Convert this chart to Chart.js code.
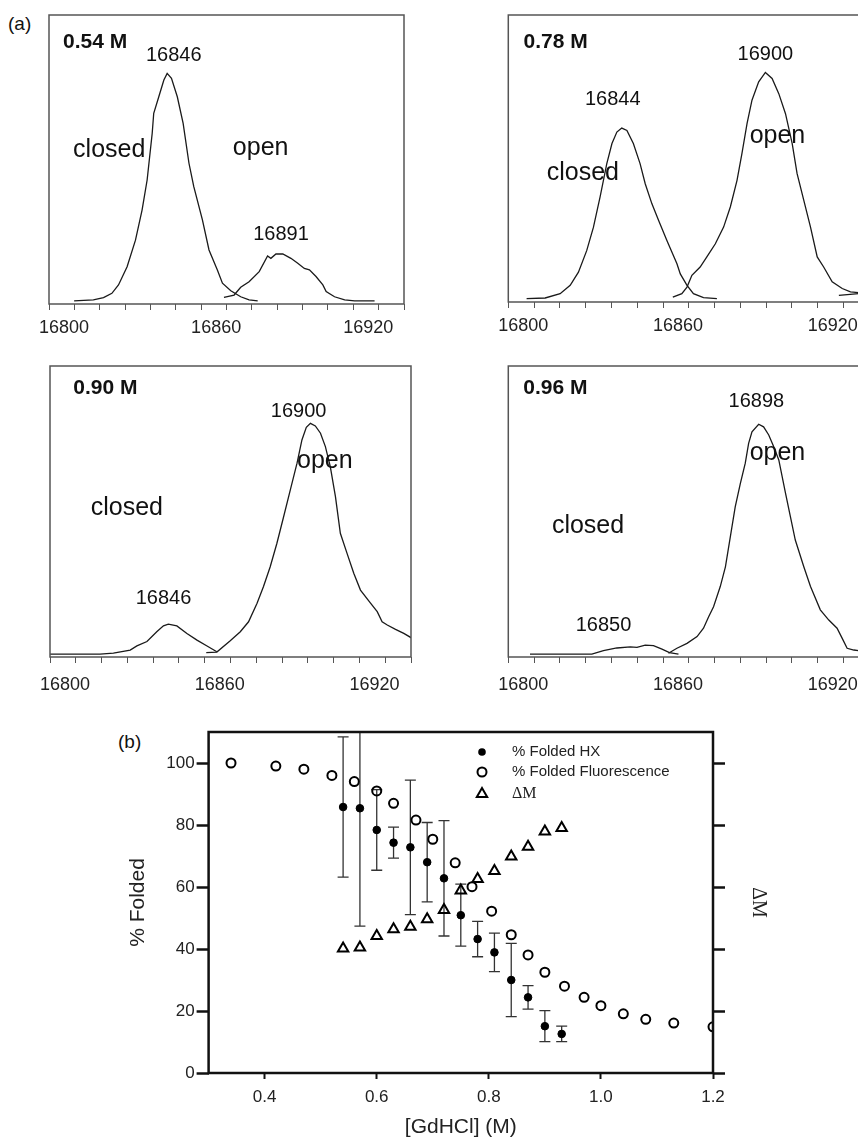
<!DOCTYPE html>
<html>
<head>
<meta charset="utf-8">
<script src="https://cdn.jsdelivr.net/npm/chart.js@4.4.1/dist/chart.umd.min.js"></script>
<style>
  html, body { margin: 0; padding: 0; background: #fff; }
  body { width: 858px; height: 1140px; position: relative; overflow: hidden; font-family: 'Liberation Sans', Arial, sans-serif; }
  canvas { position: absolute; }
  .tag { position: absolute; font-size: 19px; color: #111; line-height: 22px; }
</style>
</head>
<body>
<div class="tag" style="left:8px;top:13px">(a)</div>
<div class="tag" style="left:118px;top:731px">(b)</div>
<canvas id="p1" width="429" height="340" style="left:0;top:0"></canvas>
<canvas id="p2" width="460" height="340" style="left:430px;top:0"></canvas>
<canvas id="p3" width="429" height="350" style="left:0;top:340px"></canvas>
<canvas id="p4" width="460" height="350" style="left:430px;top:340px"></canvas>
<canvas id="pb" width="758" height="440" style="left:100px;top:700px"></canvas>
<script>
const FONT = "'Liberation Sans', Arial, sans-serif";

// ---- (a) deconvoluted mass spectra ----
const massTicks = [16800, 16860, 16920];

// 0.54 M
const massP1Closed = [16809.9, 16817.5, 16821.5, 16824.8, 16827.4, 16830.8, 16834.1, 16836.7, 16838.7, 16840.7, 16841.3, 16843.3, 16845.3, 16846.6, 16848.3, 16850.6, 16852.9, 16855.2, 16857.1, 16860.5, 16863.1, 16866.4, 16868.4, 16871.7, 16875.6, 16878.9, 16882.3];
const intP1Closed = [1.1, 1.4, 2.2, 3.7, 6.6, 12.9, 22.1, 32.5, 42.9, 59.1, 66, 71.7, 77.5, 79.8, 78.1, 71.7, 62.5, 48.7, 40.6, 29.1, 18.7, 11.8, 7.2, 4.6, 2.5, 1.4, 1.1];
const massP1Open = [16869.0, 16873.0, 16875.6, 16878.9, 16882.9, 16886.2, 16887.5, 16889.5, 16892.2, 16895.4, 16898.1, 16900.7, 16902.7, 16905.3, 16908.0, 16909.3, 16912.6, 16916.6, 16920.5, 16928.4];
const intP1Open = [2.3, 3.1, 5.8, 7.7, 11.2, 16.6, 15.8, 17.3, 17.3, 15.8, 14.1, 12.3, 11.8, 9.5, 6.6, 4.3, 2.5, 1.4, 1.1, 1.1];
const notesP1 = ['0.54 M', '16846', 'closed', 'open', '16891'];
const notesP1Mass = [16805.5, 16849.2, 16809.5, 16872.5, 16891.5];
const notesP1Int = [88.6, 84.1, 50.9, 51.6, 22.1];

// 0.78 M
const massP2Closed = [16807.1, 16814.3, 16820.1, 16824.0, 16827.2, 16830.4, 16833.0, 16835.6, 16838.2, 16840.2, 16842.1, 16844.0, 16846.0, 16848.5, 16851.1, 16853.1, 16855.7, 16858.3, 16861.5, 16865.4, 16866.7, 16869.3, 16871.8, 16875.7, 16880.9];
const intP2Closed = [1.2, 1.4, 2.9, 5.8, 10.4, 17.9, 26, 36.6, 48.2, 55.2, 59.2, 60.6, 59.8, 55.2, 48.2, 41.2, 34.2, 28.4, 21.4, 13.3, 9.8, 5.8, 2.9, 1.5, 1.2];
const massP2Open = [16863.8, 16867.3, 16869.3, 16871.2, 16874.4, 16877.0, 16880.3, 16883.5, 16886.1, 16888.7, 16890.6, 16892.6, 16894.5, 16897.1, 16899.7, 16902.3, 16904.9, 16907.5, 16910.1, 16912.0, 16914.6, 16917.2, 16919.8, 16922.3, 16925.6, 16929.5, 16932.7, 16935.8];
const intP2Open = [1.7, 2.9, 5.2, 9.3, 12.2, 15.7, 20.3, 26.1, 33.1, 42.4, 51.7, 62.2, 70.3, 76.7, 80, 77.9, 72.6, 65.6, 55.2, 44.7, 35.4, 26.1, 15.7, 12.2, 7, 4.7, 3.5, 3.3];
const massP2Tail = [16928.2, 16935.8];
const intP2Tail = [2.3, 2.9];
const notesP2 = ['0.78 M', '16844', '16900', 'closed', 'open'];
const notesP2Mass = [16805.9, 16840.5, 16899.7, 16814.9, 16893.6];
const notesP2Int = [88.4, 68.5, 84.2, 42.4, 55.4];

// 0.90 M
const massP3Closed = [16800.0, 16819.4, 16824.6, 16831.1, 16833.7, 16837.6, 16841.4, 16844.0, 16845.9, 16849.2, 16853.1, 16857.0, 16860.9, 16864.7];
const intP3Closed = [1.0, 1.0, 1.3, 2.4, 3.8, 5.3, 8.7, 10.7, 11.3, 10.7, 8.1, 5.8, 3.8, 1.8];
const massP3Open = [16860.6, 16864.7, 16869.9, 16873.8, 16877.0, 16880.3, 16882.8, 16885.4, 16888.0, 16890.6, 16893.2, 16895.8, 16897.7, 16899.4, 16901.0, 16902.9, 16904.9, 16906.8, 16908.7, 16910.7, 16912.6, 16915.2, 16917.8, 16920.4, 16924.3, 16926.9, 16928.8, 16930.8, 16934.0, 16937.2, 16940.5];
const intP3Open = [1.5, 1.7, 5.6, 8.7, 12.1, 18.5, 24.2, 31, 39.1, 48.2, 57.4, 66.6, 74.6, 78.9, 80.3, 79.4, 76.9, 72.3, 65.4, 55.1, 42.5, 35.6, 28.8, 23, 18.5, 15.6, 12.1, 11, 9.5, 8.1, 6.4];
const notesP3 = ['0.90 M', '16900', 'open', 'closed', '16846'];
const notesP3Mass = [16809.0, 16896.4, 16895.8, 16815.8, 16844.0];
const notesP3Int = [90.4, 82.6, 64.8, 48.8, 18.2];

// 0.96 M
const massP4Closed = [16808.4, 16832.4, 16836.9, 16842.1, 16847.3, 16849.9, 16853.1, 16856.3, 16859.6, 16862.5, 16866.0];
const intP4Closed = [1.0, 1.0, 2.2, 3.1, 3.5, 3.3, 4.1, 3.9, 2.7, 1.5, 1.0];
const massP4Open = [16862.1, 16865.4, 16869.3, 16873.2, 16875.7, 16877.7, 16879.6, 16882.2, 16884.2, 16886.1, 16888.0, 16890.0, 16891.9, 16893.2, 16894.5, 16897.1, 16899.0, 16901.0, 16902.9, 16904.9, 16907.5, 16909.4, 16911.3, 16914.6, 16917.2, 16921.0, 16924.3, 16927.5, 16929.5, 16931.4, 16934.0, 16935.8];
const intP4Open = [1.3, 3, 4.7, 7, 9.9, 13.8, 17.3, 24.2, 31, 41.3, 51.6, 59.7, 66.6, 73.4, 77.4, 80, 79.1, 76.3, 72.3, 67.7, 56.3, 48.2, 40.2, 31, 24.2, 16.2, 12.7, 9.9, 6.4, 3, 2.4, 2.2];
const notesP4 = ['0.96 M', '16898', 'open', 'closed', '16850'];
const notesP4Mass = [16805.8, 16896.2, 16893.6, 16816.9, 16836.9];
const notesP4Int = [90.4, 85.8, 67.7, 42.5, 9.0];

// ---- (b) denaturation curves ----
const gdhclFluor = [0.34, 0.42, 0.47, 0.52, 0.56, 0.60, 0.63, 0.67, 0.70, 0.74, 0.77, 0.805, 0.84, 0.87, 0.90, 0.935, 0.97, 1.00, 1.04, 1.08, 1.13, 1.20];
const foldedFluor = [100, 99, 98, 96, 94, 91, 87, 81.6, 75.4, 67.8, 60.1, 52.2, 44.6, 38.1, 32.5, 28, 24.4, 21.7, 19.1, 17.3, 16.1, 14.9];
const gdhclHX = [0.54, 0.57, 0.60, 0.63, 0.66, 0.69, 0.72, 0.75, 0.78, 0.81, 0.84, 0.87, 0.90, 0.93];
const foldedHX = [85.8, 85.4, 78.4, 74.3, 72.8, 68, 62.8, 50.9, 43.2, 38.9, 30, 24.4, 15.1, 12.6];
const foldedHXErr = [22.6, 38, 13, 5, 21.7, 12.8, 18.6, 10, 5.7, 6.2, 11.8, 3.8, 5, 2.5];
const deltaM = [40.2, 40.5, 44.2, 46.4, 47.2, 49.6, 52.6, 58.9, 62.6, 65.2, 69.8, 73, 77.9, 79];

function toPoints(xs, ys) {
  return xs.map((x, i) => ({ x: x, y: ys[i] }));
}

function framePlugin(color, width) {
  return {
    id: 'frame',
    afterDraw(chart) {
      const { ctx, chartArea: a } = chart;
      ctx.save();
      ctx.strokeStyle = color;
      ctx.lineWidth = width;
      ctx.strokeRect(a.left, a.top, a.right - a.left, a.bottom - a.top);
      ctx.restore();
    }
  };
}

// peak masses, state names and the denaturant concentration written on each spectrum
function notesPlugin(texts, masses, ints) {
  return {
    id: 'notes',
    afterDraw(chart) {
      const { ctx, scales: { x, y } } = chart;
      ctx.save();
      ctx.fillStyle = '#111';
      ctx.textBaseline = 'alphabetic';
      texts.forEach((t, i) => {
        if (/ M$/.test(t)) {
          ctx.font = 'bold 21px ' + FONT;
          ctx.textAlign = 'left';
        } else if (/^\d+$/.test(t)) {
          ctx.font = '20px ' + FONT;
          ctx.textAlign = 'center';
        } else {
          ctx.font = '25px ' + FONT;
          ctx.textAlign = 'left';
        }
        ctx.fillText(t, x.getPixelForValue(masses[i]), y.getPixelForValue(ints[i]));
      });
      ctx.restore();
    }
  };
}

function drawSpectrum(id, traces, texts, masses, ints, pad, axisHeight, labelGap) {
  new Chart(document.getElementById(id), {
    type: 'scatter',
    data: {
      datasets: traces.map(t => ({
        data: toPoints(t[0], t[1]),
        showLine: true,
        borderColor: '#1a1a1a',
        borderWidth: 1.3,
        pointRadius: 0,
        tension: 0
      }))
    },
    options: {
      responsive: false,
      animation: false,
      layout: { padding: pad },
      plugins: { legend: { display: false }, tooltip: { enabled: false } },
      scales: {
        x: {
          type: 'linear',
          min: 16800,
          max: 16940,
          afterFit: s => { s.height = axisHeight; },
          ticks: {
            stepSize: 10,
            autoSkip: false,
            maxRotation: 0,
            minRotation: 0,
            labelOffset: 15,
            padding: labelGap,
            color: '#222',
            font: { family: FONT, size: 18 },
            callback: v => massTicks.includes(v) ? String(v) : ''
          },
          grid: { drawOnChartArea: false, tickLength: 6, tickColor: '#555', tickWidth: 1 },
          border: { display: false }
        },
        y: { display: false, min: 0, max: 100 }
      }
    },
    plugins: [framePlugin('#555', 1.5), notesPlugin(texts, masses, ints)]
  });
}

drawSpectrum('p1', [[massP1Closed, intP1Closed], [massP1Open, intP1Open]],
  notesP1, notesP1Mass, notesP1Int, { left: 49, top: 15, right: 25, bottom: 0 }, 36, 7);
drawSpectrum('p2', [[massP2Closed, intP2Closed], [massP2Open, intP2Open], [massP2Tail, intP2Tail]],
  notesP2, notesP2Mass, notesP2Int, { left: 78.3, top: 15, right: 20.7, bottom: 0 }, 38, 7);
drawSpectrum('p3', [[massP3Closed, intP3Closed], [massP3Open, intP3Open]],
  notesP3, notesP3Mass, notesP3Int, { left: 50, top: 26, right: 18, bottom: 0 }, 33, 11);
drawSpectrum('p4', [[massP4Closed, intP4Closed], [massP4Open, intP4Open]],
  notesP4, notesP4Mass, notesP4Int, { left: 78.3, top: 26, right: 20.7, bottom: 0 }, 33, 11);

// vertical error bars on the HX points, drawn under the markers
const errorBars = {
  id: 'errorBars',
  beforeDatasetsDraw(chart) {
    const { ctx, chartArea: a, scales: { x, y } } = chart;
    ctx.save();
    ctx.beginPath();
    ctx.rect(a.left, a.top, a.right - a.left, a.bottom - a.top);
    ctx.clip();
    ctx.strokeStyle = '#333';
    ctx.lineWidth = 1.3;
    gdhclHX.forEach((g, i) => {
      const px = x.getPixelForValue(g);
      const hi = y.getPixelForValue(foldedHX[i] + foldedHXErr[i]);
      const lo = y.getPixelForValue(foldedHX[i] - foldedHXErr[i]);
      ctx.beginPath();
      ctx.moveTo(px, hi); ctx.lineTo(px, lo);
      ctx.moveTo(px - 5.5, hi); ctx.lineTo(px + 5.5, hi);
      ctx.moveTo(px - 5.5, lo); ctx.lineTo(px + 5.5, lo);
      ctx.stroke();
    });
    ctx.restore();
  }
};

// legend in the upper right corner of the plot
const legendBox = {
  id: 'legendBox',
  afterDraw(chart) {
    const { ctx, chartArea: a } = chart;
    const mx = a.right - 231, tx = a.right - 201;
    const rows = [a.top + 20, a.top + 40, a.top + 62];
    ctx.save();
    ctx.strokeStyle = '#000';
    ctx.fillStyle = '#000';
    ctx.beginPath(); ctx.arc(mx, rows[0], 3.8, 0, Math.PI * 2); ctx.fill();
    ctx.lineWidth = 2;
    ctx.beginPath(); ctx.arc(mx, rows[1], 4.5, 0, Math.PI * 2); ctx.stroke();
    const r = 6;
    ctx.beginPath();
    ctx.moveTo(mx, rows[2] - r);
    ctx.lineTo(mx + r * 0.866, rows[2] + r * 0.5);
    ctx.lineTo(mx - r * 0.866, rows[2] + r * 0.5);
    ctx.closePath(); ctx.stroke();
    ctx.fillStyle = '#222';
    ctx.textAlign = 'left';
    ctx.textBaseline = 'middle';
    ctx.font = '15px ' + FONT;
    ctx.fillText(chart.data.datasets[0].label, tx, rows[0]);
    ctx.fillText(chart.data.datasets[1].label, tx, rows[1]);
    ctx.font = "16px 'Liberation Serif', 'Times New Roman', serif";
    ctx.fillText(chart.data.datasets[2].label, tx, rows[2]);
    ctx.restore();
  }
};

const keepUpTo100 = s => { s.ticks = s.ticks.filter(t => t.value <= 100); };

new Chart(document.getElementById('pb'), {
  type: 'scatter',
  data: {
    datasets: [
      {
        label: '% Folded HX',
        data: toPoints(gdhclHX, foldedHX),
        pointStyle: 'circle',
        pointRadius: 3.8,
        backgroundColor: '#000',
        borderColor: '#000',
        borderWidth: 1
      },
      {
        label: '% Folded Fluorescence',
        data: toPoints(gdhclFluor, foldedFluor),
        pointStyle: 'circle',
        pointRadius: 4.5,
        backgroundColor: 'rgba(255,255,255,0)',
        borderColor: '#000',
        borderWidth: 2
      },
      {
        label: 'ΔM',
        data: toPoints(gdhclHX, deltaM),
        yAxisID: 'y2',
        pointStyle: 'triangle',
        pointRadius: 6,
        backgroundColor: 'rgba(255,255,255,0)',
        borderColor: '#000',
        borderWidth: 2
      }
    ]
  },
  options: {
    responsive: false,
    animation: false,
    layout: { padding: { left: 22, top: 32, right: 84, bottom: 0 } },
    plugins: { legend: { display: false }, tooltip: { enabled: false } },
    scales: {
      x: {
        type: 'linear',
        min: 0.3,
        max: 1.2,
        afterBuildTicks: s => { s.ticks = s.ticks.filter(t => Math.abs(t.value * 5 - Math.round(t.value * 5)) < 1e-6); },
        afterFit: s => { s.height = 67; },
        ticks: {
          stepSize: 0.2,
          autoSkip: false,
          maxRotation: 0,
          padding: 8,
          color: '#222',
          font: { family: FONT, size: 17 },
          callback: v => v.toFixed(1)
        },
        grid: { drawOnChartArea: false, tickLength: 6, tickWidth: 2, tickColor: '#111' },
        border: { display: false },
        title: { display: true, text: '[GdHCl] (M)', color: '#222', font: { family: FONT, size: 21 }, padding: { top: 0, bottom: 0 } }
      },
      y: {
        min: 0,
        max: 110,
        afterBuildTicks: keepUpTo100,
        afterFit: s => { s.width = 86.6; },
        ticks: { stepSize: 20, padding: 2, color: '#222', font: { family: FONT, size: 17 } },
        grid: { drawOnChartArea: false, tickLength: 12, tickWidth: 2.5, tickColor: '#111' },
        border: { display: false },
        title: { display: true, text: '% Folded', color: '#222', font: { family: FONT, size: 21 } }
      },
      y2: {
        position: 'right',
        min: 0,
        max: 110,
        afterBuildTicks: keepUpTo100,
        afterFit: s => { s.width = 61; },
        ticks: { stepSize: 20, display: false },
        grid: { drawOnChartArea: false, tickLength: 12, tickWidth: 2.5, tickColor: '#111' },
        border: { display: false },
        title: { display: true, text: 'ΔM', color: '#222', font: { family: "'Liberation Serif', 'Times New Roman', serif", size: 20 } }
      }
    }
  },
  plugins: [errorBars, framePlugin('#111', 2.5), legendBox]
});
</script>
</body>
</html>
